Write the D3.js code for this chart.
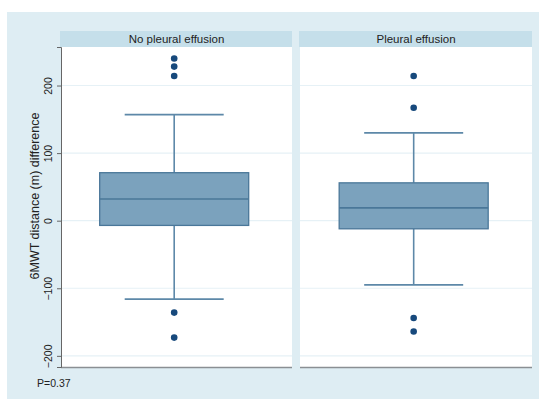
<!DOCTYPE html>
<html>
<head>
<meta charset="utf-8">
<script src="https://cdn.jsdelivr.net/npm/d3@7"></script>
<style>
  html, body { margin: 0; padding: 0; background: #ffffff; }
  svg { display: block; font-family: "Liberation Sans", Arial, sans-serif; }
</style>
</head>
<body>
<svg id="chart" width="546" height="399"></svg>
<script>
// Panels (by pleural effusion status)
const groups = ["No pleural effusion", "Pleural effusion"];
// Box statistics per group: [lower whisker, Q1, median, Q3, upper whisker]
const lowerWhisker = [-116, -95];
const q1 = [-7, -12];
const median = [32, 19];
const q3 = [71, 56];
const upperWhisker = [157, 130];
// Outlying values per group
const outliers = [
  [240, 228, 214, -136, -173],
  [214, 167, -144, -164]
];
const yTicks = [-200, -100, 0, 100, 200];
const yTitle = "6MWT distance (m) difference";
const note = "P=0.37";

const svg = d3.select("#chart");

// Outer graph region
svg.append("rect")
  .attr("x", 7).attr("y", 12).attr("width", 532).attr("height", 387)
  .attr("fill", "#deedf3");

const plotTop = 47, plotBottom = 367;
const panelX = [[61, 292], [300, 532]];

const y = d3.scaleLinear().domain([-216.5, 257]).range([plotBottom, plotTop]);

groups.forEach((g, i) => {
  const [x0, x1] = panelX[i];
  const w = x1 - x0;
  const cx = x0 + w * 0.49;
  const boxW = 149, capW = 99;

  // strip header
  svg.append("rect")
    .attr("x", x0 - 1).attr("y", 31).attr("width", w + 1).attr("height", 16)
    .attr("fill", "#c5dfea");
  svg.append("text")
    .attr("x", x0 + w / 2).attr("y", 43)
    .attr("text-anchor", "middle")
    .attr("font-size", 11.5)
    .attr("fill", "#222")
    .text(g);

  // plot area
  svg.append("rect")
    .attr("x", x0).attr("y", plotTop).attr("width", w).attr("height", plotBottom - plotTop)
    .attr("fill", "#ffffff");

  // gridlines
  svg.append("g").selectAll("line").data(yTicks).join("line")
    .attr("x1", x0).attr("x2", x1)
    .attr("y1", d => y(d)).attr("y2", d => y(d))
    .attr("stroke", "#e6f1f6").attr("stroke-width", 1.2);

  const boxStroke = "#4a7799";
  // whiskers
  svg.append("line")
    .attr("x1", cx).attr("x2", cx)
    .attr("y1", y(upperWhisker[i])).attr("y2", y(q3[i]))
    .attr("stroke", "#5d88a8").attr("stroke-width", 1.6);
  svg.append("line")
    .attr("x1", cx).attr("x2", cx)
    .attr("y1", y(q1[i])).attr("y2", y(lowerWhisker[i]))
    .attr("stroke", "#5d88a8").attr("stroke-width", 1.6);
  [upperWhisker[i], lowerWhisker[i]].forEach(v => {
    svg.append("line")
      .attr("x1", cx - capW / 2).attr("x2", cx + capW / 2)
      .attr("y1", y(v)).attr("y2", y(v))
      .attr("stroke", "#5d88a8").attr("stroke-width", 1.6);
  });

  // box
  svg.append("rect")
    .attr("x", cx - boxW / 2).attr("y", y(q3[i]))
    .attr("width", boxW).attr("height", y(q1[i]) - y(q3[i]))
    .attr("fill", "#7ba2bd").attr("stroke", boxStroke).attr("stroke-width", 1.3);
  svg.append("line")
    .attr("x1", cx - boxW / 2).attr("x2", cx + boxW / 2)
    .attr("y1", y(median[i])).attr("y2", y(median[i]))
    .attr("stroke", boxStroke).attr("stroke-width", 1.6);

  // outliers
  svg.append("g").selectAll("circle").data(outliers[i]).join("circle")
    .attr("cx", cx).attr("cy", d => y(d)).attr("r", 3.3)
    .attr("fill", "#17497c");

  // bottom axis line
  svg.append("line")
    .attr("x1", x0).attr("x2", x1)
    .attr("y1", plotBottom + 0.5).attr("y2", plotBottom + 0.5)
    .attr("stroke", "#8a8f93").attr("stroke-width", 1.3);
});

// y axis with vertical tick labels
const yAxis = d3.axisLeft(y).tickValues(yTicks).tickSize(4).tickPadding(4);
const ag = svg.append("g").attr("transform", `translate(${panelX[0][0]},0)`).call(yAxis);
ag.select(".domain").attr("stroke", "#666").attr("stroke-width", 1);
ag.selectAll(".tick line").attr("stroke", "#666");
ag.selectAll(".tick text")
  .attr("font-size", 10.5)
  .attr("fill", "#222")
  .attr("text-anchor", "middle")
  .attr("transform", "rotate(-90)")
  .attr("x", 0)
  .attr("y", -9)
  .attr("dy", "0");

// y title
svg.append("text")
  .attr("transform", "translate(39,196) rotate(-90)")
  .attr("text-anchor", "middle")
  .attr("font-size", 12.5)
  .attr("fill", "#222")
  .text(yTitle);

// note
svg.append("text")
  .attr("x", 37).attr("y", 387)
  .attr("font-size", 10.5)
  .attr("fill", "#222")
  .text(note);
</script>
</body>
</html>
